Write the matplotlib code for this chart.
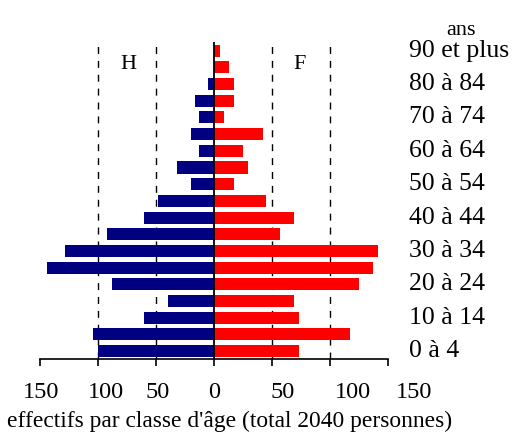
"""Pyramide des âges : effectifs par classe d'âge, hommes / femmes."""
import matplotlib
matplotlib.use("Agg")
import matplotlib.pyplot as plt
import numpy as np

plt.rcParams["font.family"] = ["Liberation Serif", "DejaVu Serif"]

# classes d'âge, de la plus jeune à la plus âgée
classes = ["0 à 4", "5 à 9", "10 à 14", "15 à 19", "20 à 24", "25 à 29",
           "30 à 34", "35 à 39", "40 à 44", "45 à 49", "50 à 54", "55 à 59",
           "60 à 64", "65 à 69", "70 à 74", "75 à 79", "80 à 84", "85 à 89",
           "90 et plus"]
hommes = [100, 104, 60, 40, 88, 144, 128, 92, 60, 48, 20, 32, 13, 20, 13, 16, 5, 0, 0]
femmes = [73, 117, 73, 69, 125, 137, 141, 57, 69, 45, 17, 29, 25, 42, 9, 17, 17, 13, 5]

ticks = [-150, -100, -50, 0, 50, 100, 150]
tick_labels = ["150", "100", "50", "0", "50", "100", "150"]
tick_label_pos = [-149, -93, -49, 0, 59, 120, 172]   # as placed in the original
grid_x = [-100, -50, 50, 100]

fig = plt.figure(figsize=(5.12, 4.32), dpi=100)
ax = fig.add_axes([0.078, 0.168, 0.68, 0.734])

y = np.arange(len(classes))
for gx in grid_x:
    ax.axvline(gx, color="black", lw=1, ls=(0, (5, 5)), zorder=1)
ax.barh(y, [-h for h in hommes], height=0.72, color="#000080", zorder=2)
ax.barh(y, femmes, height=0.72, color="#ff0000", zorder=2)
ax.axvline(0, color="black", lw=1.3, zorder=3)

ax.set_xlim(-150, 150)
ax.set_ylim(-0.5, len(classes) - 0.5)
for s in ("left", "right", "top"):
    ax.spines[s].set_visible(False)
ax.spines["bottom"].set_linewidth(1.2)
ax.set_yticks([])
ax.set_xticks(ticks)
ax.set_xticklabels([])
ax.tick_params(axis="x", direction="out", length=5, width=1.2)

for pos, lab in zip(tick_label_pos, tick_labels):
    ax.text(pos, -2.84, lab, ha="center", va="baseline", fontsize=17.5,
            clip_on=False)

# étiquettes des classes, une sur deux
for i in range(0, len(classes), 2):
    ax.text(168, y[i], classes[i], ha="left", va="center", fontsize=18.5,
            clip_on=False)
ax.text(213, 18.95, "ans", ha="center", va="baseline", fontsize=16,
        clip_on=False)

ax.text(-74, 17.15, "H", ha="center", va="center", fontsize=16)
ax.text(74, 17.15, "F", ha="center", va="center", fontsize=16)

fig.text(0.449, 0.011, "effectifs par classe d'âge (total 2040 personnes)",
         ha="center", va="baseline", fontsize=16.9)

fig.savefig("out.png", dpi=100)
